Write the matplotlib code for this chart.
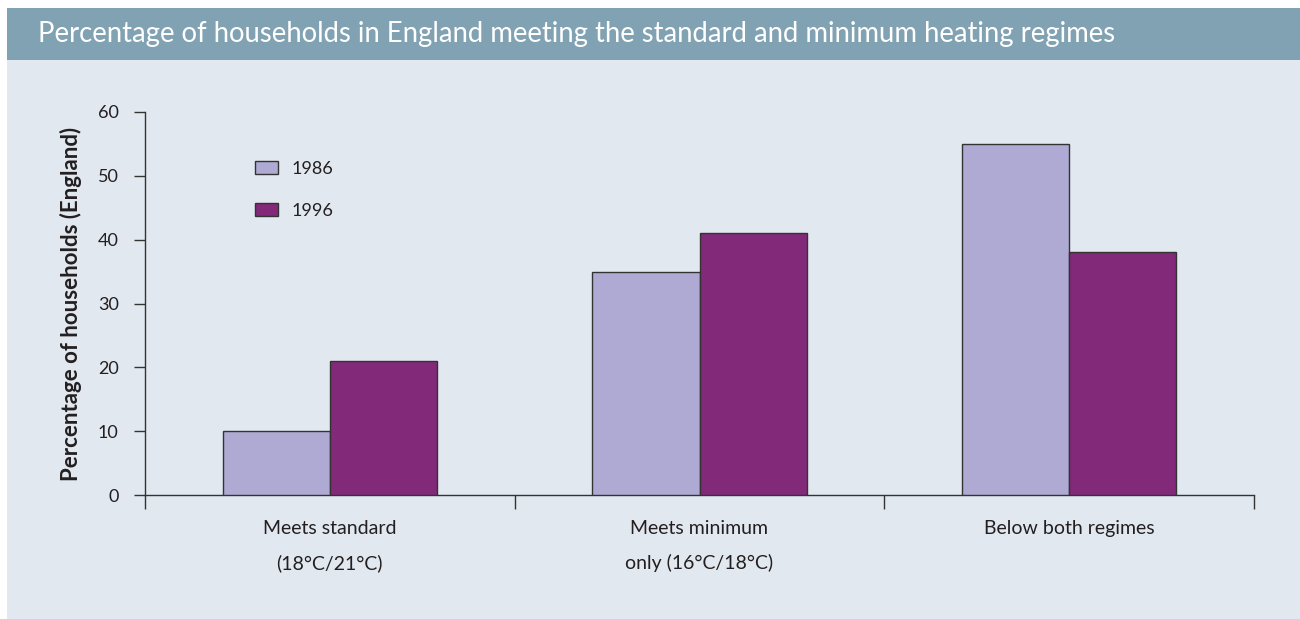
import matplotlib.pyplot as plt
import numpy as np
from matplotlib.patches import Rectangle

categories = ['Meets standard\n(18\u00b0C/21\u00b0C)',
              'Meets minimum\nonly (16\u00b0C/18\u00b0C)',
              'Below both regimes']
values_1986 = [10, 35, 55]
values_1996 = [21, 41, 38]
years = ['1986', '1996']
yticks = [0, 10, 20, 30, 40, 50, 60]

color_1986 = '#afaad4'
color_1996 = '#83297a'
panel_bg = '#e1e8ef'
header_bg = '#81a2b2'
text_col = '#231f20'

plt.rcParams['font.family'] = ['Lato', 'DejaVu Sans']

fig = plt.figure(figsize=(13, 6.19), dpi=100)
W, H = 1300, 619

# background panel and header band, behind the axes
fig.patches.append(Rectangle((7 / W, 0), 1, 1 - 8 / H, transform=fig.transFigure,
                             facecolor=panel_bg, edgecolor='none', zorder=-10))
fig.patches.append(Rectangle((7 / W, 1 - 60 / H), 1, 52 / H, transform=fig.transFigure,
                             facecolor=header_bg, edgecolor='none', zorder=-9))
fig.text(38 / W, 1 - 34 / H,
         'Percentage of households in England meeting the standard and minimum heating regimes',
         color='white', fontsize=19.8, va='center', ha='left')

ax = fig.add_axes([145 / W, 1 - 495 / H, (1254 - 145) / W, (495 - 112) / H])
ax.set_facecolor('none')

x = np.arange(len(categories)) + 0.5
w = 0.29
ax.bar(x - w / 2, values_1986, w, color=color_1986, edgecolor='#333333', linewidth=1,
       label=years[0], zorder=3)
ax.bar(x + w / 2, values_1996, w, color=color_1996, edgecolor='#333333', linewidth=1,
       label=years[1], zorder=3)

ax.set_xlim(0, len(categories))
ax.set_ylim(0, 60)
ax.set_yticks(yticks)
ax.tick_params(axis='y', direction='out', length=8, width=1, colors='#333333',
               labelcolor=text_col, labelsize=13, pad=11)

ax.set_xticks(np.arange(len(categories) + 1))
ax.set_xticklabels([])
ax.tick_params(axis='x', which='major', direction='out', length=10, width=1, colors='#333333')
ax.set_xticks(x, minor=True)
ax.set_xticklabels(categories, minor=True, linespacing=2.15)
ax.tick_params(axis='x', which='minor', length=0, pad=18, labelsize=14, labelcolor=text_col)

for s in ['top', 'right']:
    ax.spines[s].set_visible(False)
for s in ['left', 'bottom']:
    ax.spines[s].set_color('#333333')
    ax.spines[s].set_linewidth(1)

ax.set_ylabel('Percentage of households (England)', fontsize=16, fontweight='bold',
              color=text_col, labelpad=11)

leg = ax.legend(loc='upper left', bbox_to_anchor=(0.099, 0.873), frameon=False,
                fontsize=13, handlelength=1.27, handleheight=0.72, labelspacing=1.45,
                handletextpad=0.77, borderpad=0, borderaxespad=0)
for t in leg.get_texts():
    t.set_color(text_col)

fig.savefig('out.png', dpi=100, facecolor='white')
